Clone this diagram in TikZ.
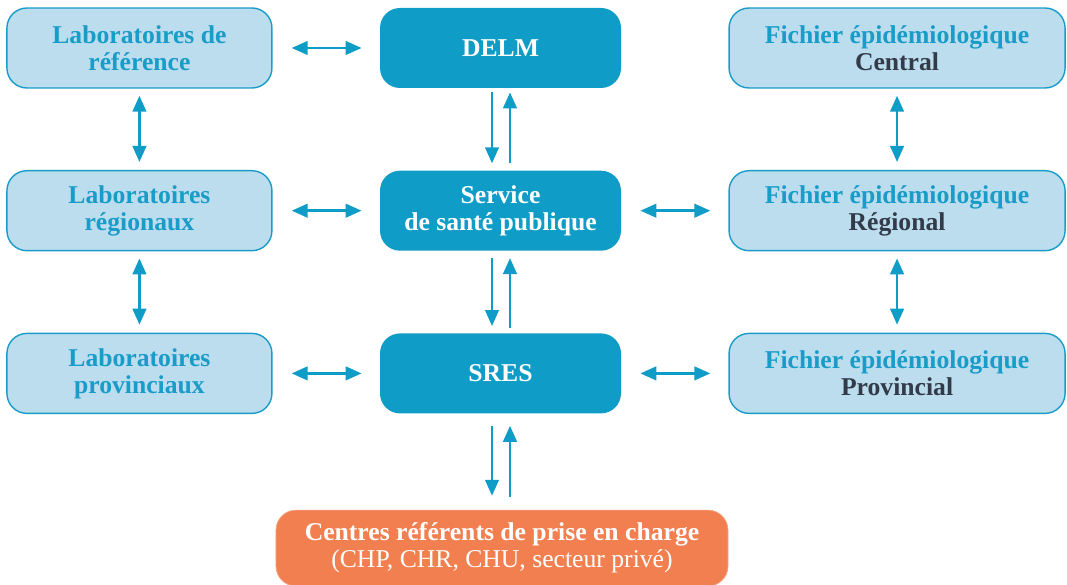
\documentclass[tikz,border=0pt]{standalone}
\usepackage{fontspec}
\setmainfont{Liberation Serif}
\usepackage{xcolor}
\usepackage{tikz}
\usetikzlibrary{positioning,arrows.meta}
\definecolor{bleu}{HTML}{0F9DC7}
\definecolor{bleuclair}{HTML}{BBDDED}
\definecolor{bleutexte}{HTML}{1A9CC9}
\definecolor{gristexte}{HTML}{333B4A}
\definecolor{orange}{HTML}{F27F50}
\tikzstyle{labo}=[rectangle, draw=bleutexte, line width=0.8pt, rounded corners=0.4cm, fill=bleuclair,
        text centered, text=bleutexte, font=\bfseries, align=center, minimum width=5.3cm, minimum height=1.6cm]
\tikzstyle{fichier}=[labo, minimum width=6.72cm]
\tikzstyle{central}=[rectangle, rounded corners=0.4cm, fill=bleu, text=white, font=\bfseries,
        align=center, minimum width=4.82cm, minimum height=1.6cm]
\tikzstyle{centres}=[rectangle, rounded corners=0.4cm, fill=orange, draw=orange!70!white, text=white,
        align=center, minimum width=9.04cm, minimum height=1.52cm]
\tikzstyle{myarrow}=[{Triangle[length=3.2mm,width=2.7mm]}-{Triangle[length=3.2mm,width=2.7mm]}, draw=bleu, line width=1.5pt]
\tikzstyle{down}=[-{Triangle[length=3.2mm,width=2.7mm]}, draw=bleu, line width=1.5pt]

\begin{document}
\begin{tikzpicture}[node distance=1.64cm and 2.14cm]
    \fontsize{14.6}{15.4}\selectfont
    \useasboundingbox (-10.01,0.96) rectangle (11.33,-10.74);
    % colonne centrale
    \node (DELM) [central] {DELM};
    \node (Service) [central, below=of DELM] {Service\\de santé publique};
    \node (SRES) [central, below=of Service] {SRES};
    \node (Centres) [centres, below=1.92cm of SRES, xshift=0.03cm]
        {\textbf{Centres référents de prise en charge}\\(CHP, CHR, CHU, secteur privé)};
    % laboratoires
    \node (LabRef) [labo, left=of DELM] {Laboratoires de\\référence};
    \node (LabReg) [labo, left=of Service] {Laboratoires\\régionaux};
    \node (LabProv) [labo, left=of SRES] {Laboratoires\\provinciaux};
    % fichiers
    \node (FichCentral) [fichier, right=of DELM] {Fichier épidémiologique\\\textcolor{gristexte}{Central}};
    \node (FichReg) [fichier, right=of Service] {Fichier épidémiologique\\\textcolor{gristexte}{Régional}};
    \node (FichProv) [fichier, right=of SRES] {Fichier épidémiologique\\\textcolor{gristexte}{Provincial}};

    \draw[myarrow, shorten <=0.38cm, shorten >=0.36cm] (LabRef) -- (DELM);
    \draw[myarrow, shorten <=0.38cm, shorten >=0.36cm] (LabReg) -- (Service);
    \draw[myarrow, shorten <=0.38cm, shorten >=0.36cm] (LabProv) -- (SRES);
    \draw[myarrow, shorten <=0.38cm, shorten >=0.36cm] (Service) -- (FichReg);
    \draw[myarrow, shorten <=0.38cm, shorten >=0.36cm] (SRES) -- (FichProv);
    \draw[myarrow, shorten <=0.14cm, shorten >=0.16cm] (LabRef) -- (LabReg);
    \draw[myarrow, shorten <=0.14cm, shorten >=0.16cm] (LabReg) -- (LabProv);
    \draw[myarrow, shorten <=0.14cm, shorten >=0.16cm] (FichCentral) -- (FichReg);
    \draw[myarrow, shorten <=0.14cm, shorten >=0.16cm] (FichReg) -- (FichProv);
    % aller-retour
    \draw[down, shorten <=0.08cm, shorten >=0.14cm] ([xshift=-0.17cm]DELM.south) -- ([xshift=-0.17cm]Service.north);
    \draw[down, shorten <=0.14cm, shorten >=0.08cm] ([xshift=0.19cm]Service.north) -- ([xshift=0.19cm]DELM.south);
    \draw[down, shorten <=0.14cm, shorten >=0.14cm] ([xshift=-0.17cm]Service.south) -- ([xshift=-0.17cm]SRES.north);
    \draw[down, shorten <=0.1cm, shorten >=0.14cm] ([xshift=0.19cm]SRES.north) -- ([xshift=0.19cm]Service.south);
    \draw[down, shorten <=0.24cm, shorten >=0.28cm] ([xshift=-0.17cm]SRES.south) -- ([xshift=-0.2cm]Centres.north);
    \draw[down, shorten <=0.26cm, shorten >=0.24cm] ([xshift=0.16cm]Centres.north) -- ([xshift=0.19cm]SRES.south);
\end{tikzpicture}
\end{document}
